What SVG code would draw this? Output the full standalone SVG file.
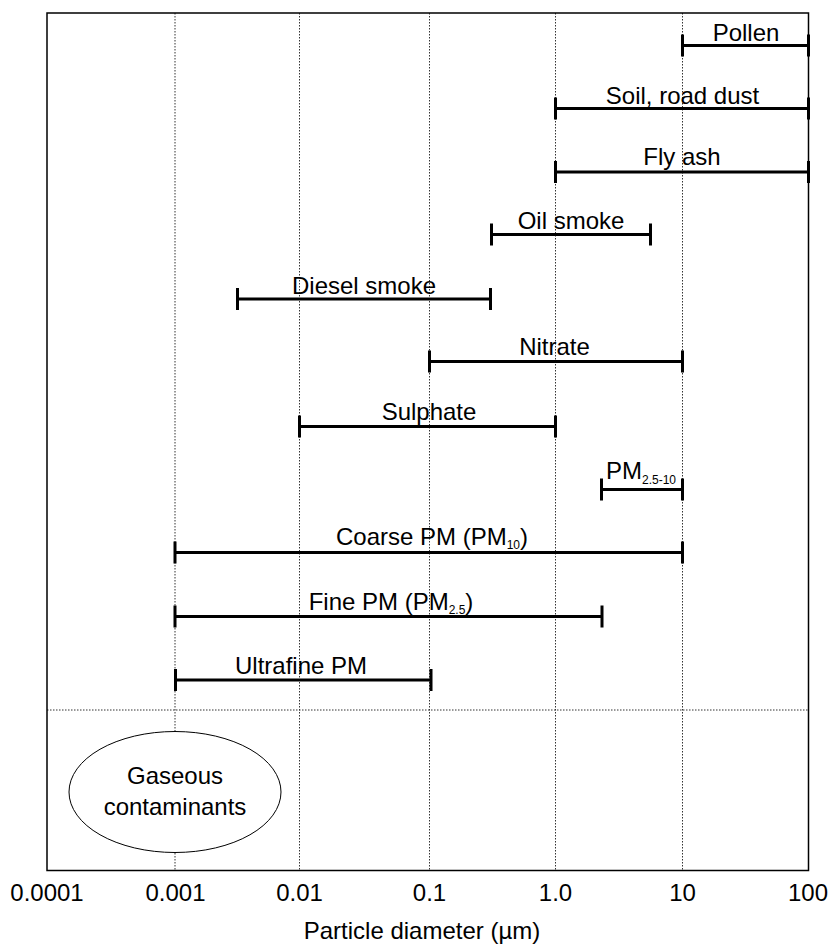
<svg xmlns="http://www.w3.org/2000/svg" width="829" height="946" viewBox="0 0 829 946">
<style>
text{font-family:"Liberation Sans",Arial,sans-serif;font-size:24px;fill:#000}
.lbl{text-anchor:middle}
.sub{font-size:12px}
.grid{stroke:#333;stroke-width:1;stroke-dasharray:1.5 1.5;fill:none}
.bar{stroke:#000;stroke-width:3;fill:none}
.frame{stroke:#000;stroke-width:1.5;fill:none}
</style>
<rect width="829" height="946" fill="#fff"/>
<g id="grid">
<line class="grid" x1="175" y1="13" x2="175" y2="870"/>
<line class="grid" x1="299.5" y1="13" x2="299.5" y2="870"/>
<line class="grid" x1="429.5" y1="13" x2="429.5" y2="870"/>
<line class="grid" x1="555.5" y1="13" x2="555.5" y2="870"/>
<line class="grid" x1="682.5" y1="13" x2="682.5" y2="870"/>
<line class="grid" x1="47" y1="710" x2="808" y2="710"/>
</g>
<rect class="frame" x="47" y="13" width="761.5" height="857.5"/>
<g id="connectors">
<path class="bar" d="M682.5 45.5H808.5M682.5 34.5V56.5M808.5 34.5V56.5"/>
<path class="bar" d="M555.5 108.5H808.5M555.5 97.5V119.5M808.5 97.5V119.5"/>
<path class="bar" d="M555.5 172H808.5M555.5 161V183M808.5 161V183"/>
<path class="bar" d="M491.5 234.5H650.5M491.5 223.5V245.5M650.5 223.5V245.5"/>
<path class="bar" d="M237.5 299H490.5M237.5 288V310M490.5 288V310"/>
<path class="bar" d="M429.5 361.5H682.5M429.5 350.5V372.5M682.5 350.5V372.5"/>
<path class="bar" d="M299.5 426.5H555.5M299.5 415.5V437.5M555.5 415.5V437.5"/>
<path class="bar" d="M601.5 489.5H682.5M601.5 478.5V500.5M682.5 478.5V500.5"/>
<path class="bar" d="M175 552.5H682.5M175 541.5V563.5M682.5 541.5V563.5"/>
<path class="bar" d="M175 616.5H602M175 605.5V627.5M602 605.5V627.5"/>
<path class="bar" d="M175.5 680H431M175.5 669V691M431 669V691"/>
</g>
<g id="pollen"><text class="lbl" x="746" y="41">Pollen</text></g>
<g id="soil"><text class="lbl" x="682.5" y="103.5">Soil, road dust</text></g>
<g id="flyash"><text class="lbl" x="682" y="165">Fly ash</text></g>
<g id="oilsmoke"><text class="lbl" x="571" y="228.5">Oil smoke</text></g>
<g id="diesel"><text class="lbl" x="364" y="293.5">Diesel smoke</text></g>
<g id="nitrate"><text class="lbl" x="554.5" y="355">Nitrate</text></g>
<g id="sulphate"><text class="lbl" x="429" y="419.5">Sulphate</text></g>
<g id="pm2510"><text x="606" y="478.5">PM<tspan class="sub" dy="5.5">2.5-10</tspan></text></g>
<g id="coarse"><text class="lbl" x="432" y="545">Coarse PM (PM<tspan class="sub" dy="4">10</tspan><tspan dy="-4">)</tspan></text></g>
<g id="fine"><text class="lbl" x="391" y="609.5">Fine PM (PM<tspan class="sub" dy="4">2.5</tspan><tspan dy="-4">)</tspan></text></g>
<g id="ultrafine"><text class="lbl" x="301" y="674">Ultrafine PM</text></g>
<g id="gaseous">
<ellipse cx="175" cy="792" rx="106" ry="60.5" fill="#fff" stroke="#000" stroke-width="1"/>
<text class="lbl" x="175" y="783.5">Gaseous</text>
<text class="lbl" x="175" y="815">contaminants</text>
</g>
<g id="axis">
<text class="lbl" x="47" y="901">0.0001</text>
<text class="lbl" x="175.5" y="901">0.001</text>
<text class="lbl" x="299.5" y="901">0.01</text>
<text class="lbl" x="429.5" y="901">0.1</text>
<text class="lbl" x="555.5" y="901">1.0</text>
<text class="lbl" x="682.5" y="901">10</text>
<text class="lbl" x="808" y="901">100</text>
<text class="lbl" x="422" y="939">Particle diameter (µm)</text>
</g>
</svg>
